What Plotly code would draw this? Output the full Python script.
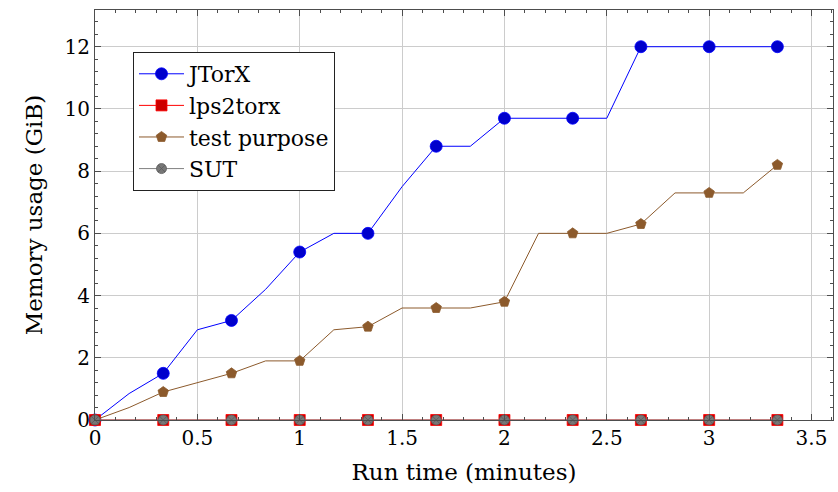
import plotly.graph_objects as go

# Run time in seconds (sampled every 10 s), plotted in minutes
run_time_s = [0, 10, 20, 30, 40, 50, 60, 70, 80, 90, 100,
              110, 120, 130, 140, 150, 160, 170, 180, 190, 200]
jtorx = [0, 0.85, 1.5, 2.9, 3.2, 4.2, 5.4, 6.0, 6.0, 7.5, 8.8,
         8.8, 9.7, 9.7, 9.7, 9.7, 12.0, 12.0, 12.0, 12.0, 12.0]
lps2torx = [0] * 21
test_purpose = [0, 0.4, 0.9, 1.2, 1.5, 1.9, 1.9, 2.9, 3.0, 3.6, 3.6,
                3.6, 3.8, 6.0, 6.0, 6.0, 6.3, 7.3, 7.3, 7.3, 8.2]
sut = [0] * 21

x_ticks = [0, 0.5, 1, 1.5, 2, 2.5, 3, 3.5]
y_ticks = [0, 2, 4, 6, 8, 10, 12]

run_time_min = [t / 60 for t in run_time_s]

series = [
    ("JTorX", jtorx, "#0000ff", "circle", "#0000cc", "#0000ff", 12),
    ("lps2torx", lps2torx, "#ff0000", "square", "#cc0000", "#ff0000", 11),
    ("test purpose", test_purpose, "#8c5a2c", "pentagon", "#8c5a2c", "#8c5a2c", 11),
    ("SUT", sut, "#808080", "circle-x", "#777777", "#5a5a5a", 10),
]

FONT = "DejaVu Serif"
fig = go.Figure()
for name, ys, lc, sym, fc, ec, ms in series:
    fig.add_trace(go.Scatter(
        x=run_time_min, y=ys, mode="lines", line=dict(color=lc, width=1),
        showlegend=False, hoverinfo="skip", cliponaxis=False))
    mx = run_time_min[::2]
    my = ys[::2]
    fig.add_trace(go.Scatter(
        x=mx, y=my, mode="markers", showlegend=False, cliponaxis=False,
        marker=dict(symbol=sym, size=ms, color=fc, line=dict(color=ec, width=0.8))))
    fig.add_trace(go.Scatter(
        x=[None], y=[None], mode="lines+markers", name=name,
        line=dict(color=lc, width=1),
        marker=dict(symbol=sym, size=ms, color=fc, line=dict(color=ec, width=0.8))))

axis_common = dict(
    showline=True, linecolor="#4d4d4d", linewidth=1.2, mirror="allticks",
    ticks="inside", ticklen=6, tickcolor="#4d4d4d", tickwidth=1,
    showgrid=True, gridcolor="#cccccc", gridwidth=1, zeroline=False,
    tickfont=dict(family=FONT, size=20, color="black"),
)

fig.update_layout(
    width=838, height=492,
    margin=dict(l=95, r=5, t=10, b=72),
    plot_bgcolor="white", paper_bgcolor="white",
    font=dict(family=FONT, color="black"),
    xaxis=dict(range=[0, 3.605], tickvals=x_ticks,
               ticktext=[f"{v:g}" for v in x_ticks],
               minor=dict(dtick=0.1, tick0=0, ticks="inside", ticklen=3,
                          tickcolor="#4d4d4d", showgrid=False),
               title=dict(text="Run time (minutes)", font=dict(family=FONT, size=23), standoff=14),
               **axis_common),
    yaxis=dict(range=[0, 13.18], tickvals=y_ticks,
               minor=dict(dtick=0.4, tick0=0, ticks="inside", ticklen=3,
                          tickcolor="#4d4d4d", showgrid=False),
               title=dict(text="Memory usage (GiB)", font=dict(family=FONT, size=23), standoff=15),
               **axis_common),
    legend=dict(x=0.0515, y=0.8976, xanchor="left", yanchor="top",
                bgcolor="white", bordercolor="#222222", borderwidth=1,
                font=dict(family=FONT, size=22, color="black"),
                itemwidth=45, tracegroupgap=0),
)

fig.write_html("out.html", config={"displayModeBar": False},
               post_script="document.body.style.margin='0';")
